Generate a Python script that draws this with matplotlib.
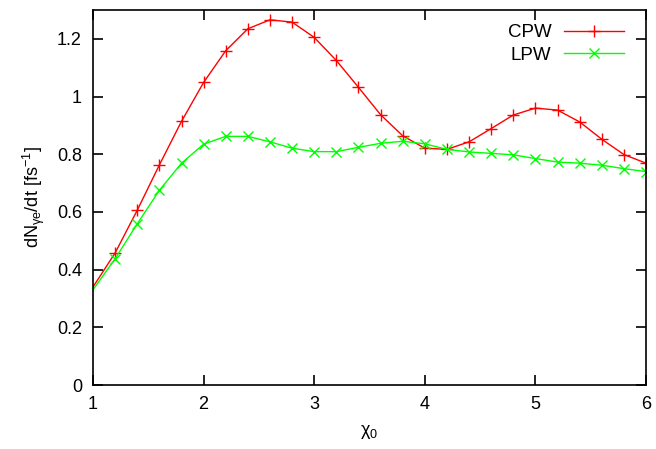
import numpy as np
import matplotlib
matplotlib.use("Agg")
import matplotlib.pyplot as plt
from matplotlib.ticker import FuncFormatter

# ============================
# Data
# ============================
chi0 = [1.0, 1.2, 1.4, 1.6, 1.8, 2.0, 2.2, 2.4, 2.6, 2.8, 3.0, 3.2, 3.4,
        3.6, 3.8, 4.0, 4.2, 4.4, 4.6, 4.8, 5.0, 5.2, 5.4, 5.6, 5.8, 6.0]
cpw = [0.340, 0.458, 0.606, 0.763, 0.914, 1.049, 1.159, 1.235, 1.266, 1.258,
       1.205, 1.125, 1.032, 0.937, 0.864, 0.821, 0.817, 0.843, 0.889, 0.936,
       0.960, 0.953, 0.912, 0.852, 0.799, 0.769]
lpw = [0.330, 0.438, 0.559, 0.675, 0.769, 0.835, 0.862, 0.862, 0.843, 0.821,
       0.809, 0.809, 0.824, 0.838, 0.845, 0.836, 0.817, 0.808, 0.803, 0.798,
       0.785, 0.773, 0.769, 0.762, 0.750, 0.740]

xticks = [1, 2, 3, 4, 5, 6]
yticks = [0, 0.2, 0.4, 0.6, 0.8, 1.0, 1.2]

plt.rcParams["font.family"] = ["Liberation Sans", "DejaVu Sans"]
plt.rcParams["mathtext.fontset"] = "custom"
plt.rcParams["mathtext.rm"] = "Liberation Sans"
plt.rcParams["mathtext.it"] = "Liberation Sans"

fig = plt.figure(figsize=(6.56, 4.49), dpi=100)
ax = fig.add_axes([0.1418, 0.1425, 0.8430, 0.8352])

ax.plot(chi0, cpw, color="#ff0000", lw=1.0, marker="+", ms=9, mew=1.0,
        markevery=slice(1, None), label="CPW")
ax.plot(chi0, lpw, color="#00ff00", lw=1.0, marker="x", ms=7.5, mew=1.0,
        markevery=slice(1, None), label="LPW")

ax.set_xlim(1, 6)
ax.set_ylim(0, 1.3)
ax.set_xticks(xticks)
ax.set_yticks(yticks)
ax.yaxis.set_major_formatter(FuncFormatter(lambda v, p: "%g" % v))
ax.tick_params(direction="in", length=7, width=1.2, top=True, right=True,
               labelsize=13, pad=8)
for s in ax.spines.values():
    s.set_linewidth(1.2)

ax.set_xlabel("χ$_0$", fontsize=13, labelpad=7)
ax.set_ylabel("dN$_{γe}$/dt [fs$^{-1}$]", fontsize=13, labelpad=7)

ax.legend(loc="upper right", bbox_to_anchor=(1.0, 1.022), frameon=False,
          markerfirst=False, fontsize=13.5, handlelength=3.15, borderpad=0.4,
          borderaxespad=0.8, handletextpad=0.7, labelspacing=0.28)

fig.savefig("out.png", dpi=100)
